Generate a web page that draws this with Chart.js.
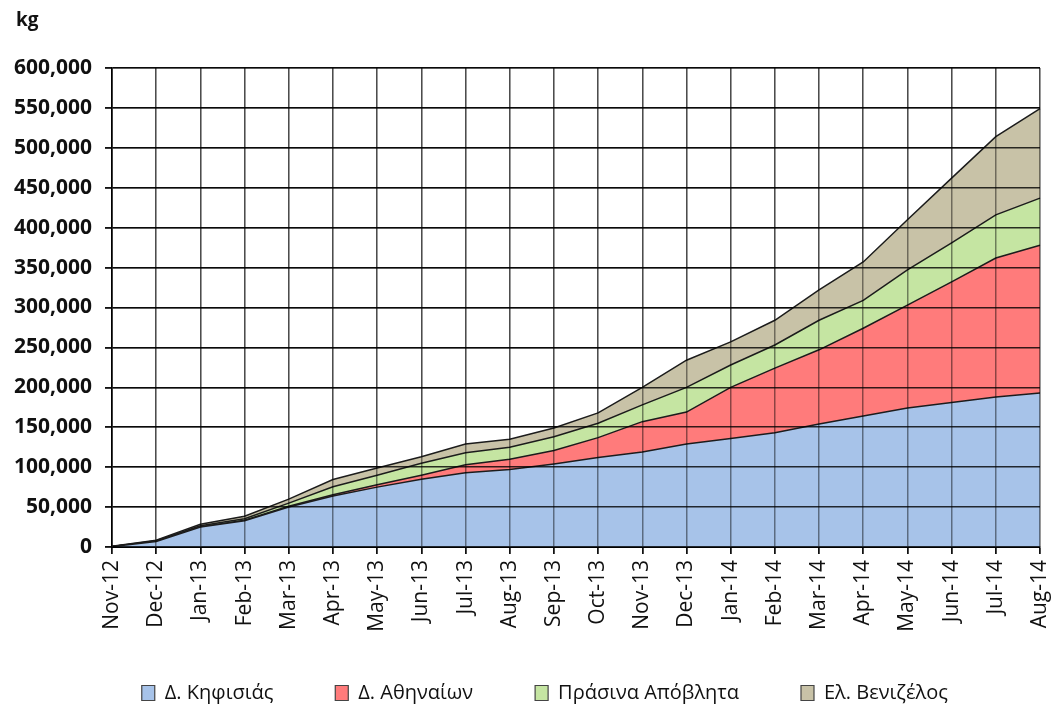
<!DOCTYPE html>
<html>
<head>
<meta charset="utf-8">
<script src="https://cdn.jsdelivr.net/npm/chart.js@4.4.1/dist/chart.umd.min.js"></script>
<style>
  html, body { margin: 0; padding: 0; background: #ffffff; }
  #wrap { width: 1057px; height: 717px; }
</style>
</head>
<body>
<div id="wrap"><canvas id="c" width="1057" height="717"></canvas></div>
<script>
// Monthly cumulative quantities (kg), stacked by source
const months = ['Nov-12','Dec-12','Jan-13','Feb-13','Mar-13','Apr-13','May-13','Jun-13','Jul-13','Aug-13','Sep-13',
                'Oct-13','Nov-13','Dec-13','Jan-14','Feb-14','Mar-14','Apr-14','May-14','Jun-14','Jul-14','Aug-14'];

const kifisias   = [500, 7000, 25000, 33000, 50000, 64000, 75000, 85000, 93000, 97000, 104000,
                    112000, 119000, 129000, 136000, 143000, 154000, 164000, 174000, 181000, 188000, 193000];
const athinaion  = [0, 0, 0, 500, 1000, 1500, 3000, 5000, 10000, 13000, 17000,
                    25000, 38000, 40000, 64000, 81000, 93000, 110000, 129000, 151000, 174000, 185000];
const prasina    = [200, 800, 1500, 2000, 4000, 10000, 12000, 15000, 15000, 15000, 17000,
                    18000, 21000, 31000, 28000, 29000, 37000, 35000, 44000, 49000, 54000, 59000];
const venizelos  = [200, 800, 2000, 3000, 5000, 9000, 9000, 8000, 11000, 10000, 11000,
                    13000, 22000, 34000, 29000, 31000, 38000, 48000, 63000, 81000, 98000, 112000];

const seriesNames = ['Δ. Κηφισιάς', 'Δ. Αθηναίων', 'Πράσινα Απόβλητα', 'Ελ. Βενιζέλος'];
const unitLabel = 'kg';

const yMin = 0, yMax = 600000, yStep = 50000;

const fillColors = ['#a7c3e9', '#ff7b7b', '#c5e5a2', '#c8c2a7'];
const lineColor = '#1c1c1c';
const fontFamily = "'Open Sans', 'DejaVu Sans', sans-serif";

// Excel-style grid: grid lines sit above the filled areas
const gridOnTop = {
  id: 'gridOnTop',
  afterDatasetsDraw(chart) {
    const area = chart.chartArea;
    chart.scales.x.drawGrid(area);
    chart.scales.y.drawGrid(area);
  }
};

// Unit caption above the value axis
const unitCaption = {
  id: 'unitCaption',
  afterDraw(chart) {
    const ctx = chart.ctx;
    ctx.save();
    ctx.font = "bold 19px " + fontFamily;
    ctx.fillStyle = '#111';
    ctx.textAlign = 'left';
    ctx.textBaseline = 'alphabetic';
    ctx.fillText(unitLabel, 16, 26);
    ctx.restore();
  }
};

const seriesValues = [kifisias, athinaion, prasina, venizelos];
const datasets = seriesValues.map((vals, i) => ({
  label: seriesNames[i],
  data: vals,
  backgroundColor: fillColors[i],
  borderColor: lineColor,
  borderWidth: 1.5,
  fill: i === 0 ? 'origin' : '-1',
  pointRadius: 0,
  pointHoverRadius: 0,
  tension: 0
}));

new Chart(document.getElementById('c'), {
  type: 'line',
  data: { labels: months, datasets },
  plugins: [gridOnTop, unitCaption],
  options: {
    responsive: false,
    animation: false,
    events: [],
    layout: { padding: { top: 68, left: 0, right: 17, bottom: 4 } },
    plugins: {
      tooltip: { enabled: false },
      title: { display: false },
      legend: {
        position: 'bottom',
        fullSize: false,
        labels: {
          color: '#111',
          font: { family: fontFamily, size: 20 },
          boxWidth: 13,
          boxHeight: 15,
          padding: 10,
          generateLabels(chart) {
            const items = Chart.defaults.plugins.legend.labels.generateLabels(chart);
            items.forEach((it, i) => {
              it.lineWidth = 1.2;
              it.strokeStyle = '#444';
              // spacing between legend entries
              it.text = it.text + (i === items.length - 1 ? '            ' : '          ');
            });
            return items;
          }
        }
      }
    },
    scales: {
      x: {
        type: 'category',
        offset: false,
        afterFit(scale) {
          scale.height = 126;
          scale.paddingLeft = 0;
          scale.paddingRight = 0;
        },
        grid: {
          color: 'rgba(0,0,0,0.45)',
          lineWidth: 1.5,
          tickLength: 7,
          tickColor: '#111',
          drawOnChartArea: true
        },
        border: { display: true, color: '#000', width: 2 },
        ticks: {
          minRotation: 90,
          maxRotation: 90,
          autoSkip: false,
          padding: 6,
          color: '#111',
          font: { family: fontFamily, size: 21 }
        }
      },
      y: {
        stacked: true,
        min: yMin,
        max: yMax,
        afterFit(scale) { scale.width = 112; },
        grid: {
          color: 'rgba(0,0,0,0.8)',
          lineWidth: 1.6,
          tickLength: 7,
          tickColor: '#111'
        },
        border: { display: true, color: '#000', width: 1.6 },
        ticks: {
          stepSize: yStep,
          padding: 13,
          color: '#111',
          font: { family: fontFamily, size: 21, weight: 'bold' },
          callback: (v) => v.toLocaleString('en-US')
        }
      }
    }
  }
});
</script>
</body>
</html>
